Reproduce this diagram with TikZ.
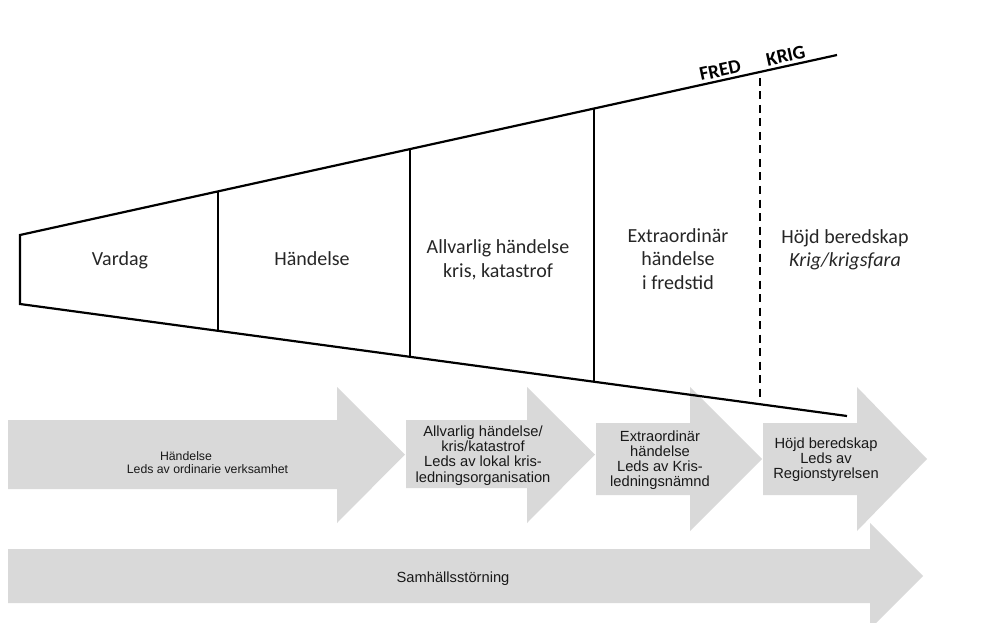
\documentclass[tikz,border=0pt]{standalone}
\usepackage{fontspec}
\setmainfont{Carlito}
\newfontfamily\arrowfont{Liberation Sans}
\definecolor{arrowgray}{HTML}{D9D9D9}
\begin{document}
\begin{tikzpicture}[x=1pt,y=-1pt,
  funnelline/.style={line width=2.2pt, line join=miter},
  divider/.style={line width=2.2pt},
  dashdivider/.style={line width=2.2pt, dash pattern=on 8pt off 5.5pt},
  phase/.style={font=\fontsize{20}{23.5}\selectfont, align=center, inner sep=0pt, text=black!85},
  blockarrow/.style={fill=arrowgray, draw=none},
  arrowtext/.style={font=\arrowfont\fontsize{14.7}{15.2}\selectfont, align=center, inner sep=0pt, text=black!90},
  smallarrowtext/.style={font=\arrowfont\fontsize{12.3}{13.2}\selectfont, align=center, inner sep=0pt, text=black!90},
  warlabel/.style={font=\bfseries\fontsize{19.5}{19.5}\selectfont, rotate=12.4, anchor=base, inner sep=0pt}]

\useasboundingbox (0,0) rectangle (1007,623);
\clip (0,0) rectangle (1007,623);

% ---- block arrows ----
\fill[blockarrow] (8,420) -- (337,420) -- (337,387) -- (405,454.5) -- (337,523) -- (337,489) -- (8,489) -- cycle;
\fill[blockarrow] (406,420) -- (527,420) -- (527,387) -- (595,454.5) -- (527,523) -- (527,488) -- (406,488) -- cycle;
\fill[blockarrow] (596,423) -- (690,423) -- (690,387) -- (762,459) -- (690,531) -- (690,495) -- (596,495) -- cycle;
\fill[blockarrow] (763,423) -- (857,423) -- (857,387) -- (927,459) -- (857,531) -- (857,495) -- (763,495) -- cycle;
\fill[blockarrow] (8,549) -- (870,549) -- (870,523) -- (923,576) -- (870,629) -- (870,603) -- (8,603) -- cycle;

\node[smallarrowtext] (a1) at (207.5,463) {Händelse\hspace*{43pt}\\Leds av ordinarie verksamhet};
\node[arrowtext] (a2) at (483,455.5) {Allvarlig händelse/\\kris/katastrof\\Leds av lokal kris-\\ledningsorganisation};
\node[arrowtext] (a3) at (660,460) {Extraordinär\\händelse\\Leds av Kris-\\ledningsnämnd};
\node[arrowtext] (a4) at (826,459.5) {Höjd beredskap\\Leds av\\Regionstyrelsen};
\node[arrowtext] (a5) at (453,579) {Samhällsstörning};

% ---- funnel ----
\coordinate (TL) at (20,235);
\coordinate (BL) at (20,304);
\coordinate (TR) at (837,55);
\coordinate (BR) at (847,416);
\draw[funnelline] (TR) -- (TL) -- (BL) -- (BR);

\coordinate (d1t) at (218,191.4);  \coordinate (d1b) at (218,330.8);
\coordinate (d2t) at (410,149.1);  \coordinate (d2b) at (410,356.8);
\coordinate (d3t) at (594,108.5);  \coordinate (d3b) at (594,381.7);
\coordinate (d4t) at (760,78);     \coordinate (d4b) at (760,398);
\draw[divider] (d1t) -- (d1b);
\draw[divider] (d2t) -- (d2b);
\draw[divider] (d3t) -- (d3b);
\draw[dashdivider] (d4t) -- (d4b);

\node[phase, anchor=base] (vardag) at (120,265) {Vardag};
\node[phase, anchor=base] (handelse) at (312,265) {Händelse};
\node[phase] (allvarlig) at (498,260) {Allvarlig händelse\\kris, katastrof};
\node[phase] (extra) at (678,259) {Extraordinär\\händelse\\i fredstid};
\node[phase] (hojd) at (845,250) {Höjd beredskap\\\textit{Krig/krigsfara}};

\node[warlabel] (fred) at (721.5,76.5) {FRED};
\node[warlabel] (krig) at (787,62) {KRIG};
\end{tikzpicture}
\end{document}
